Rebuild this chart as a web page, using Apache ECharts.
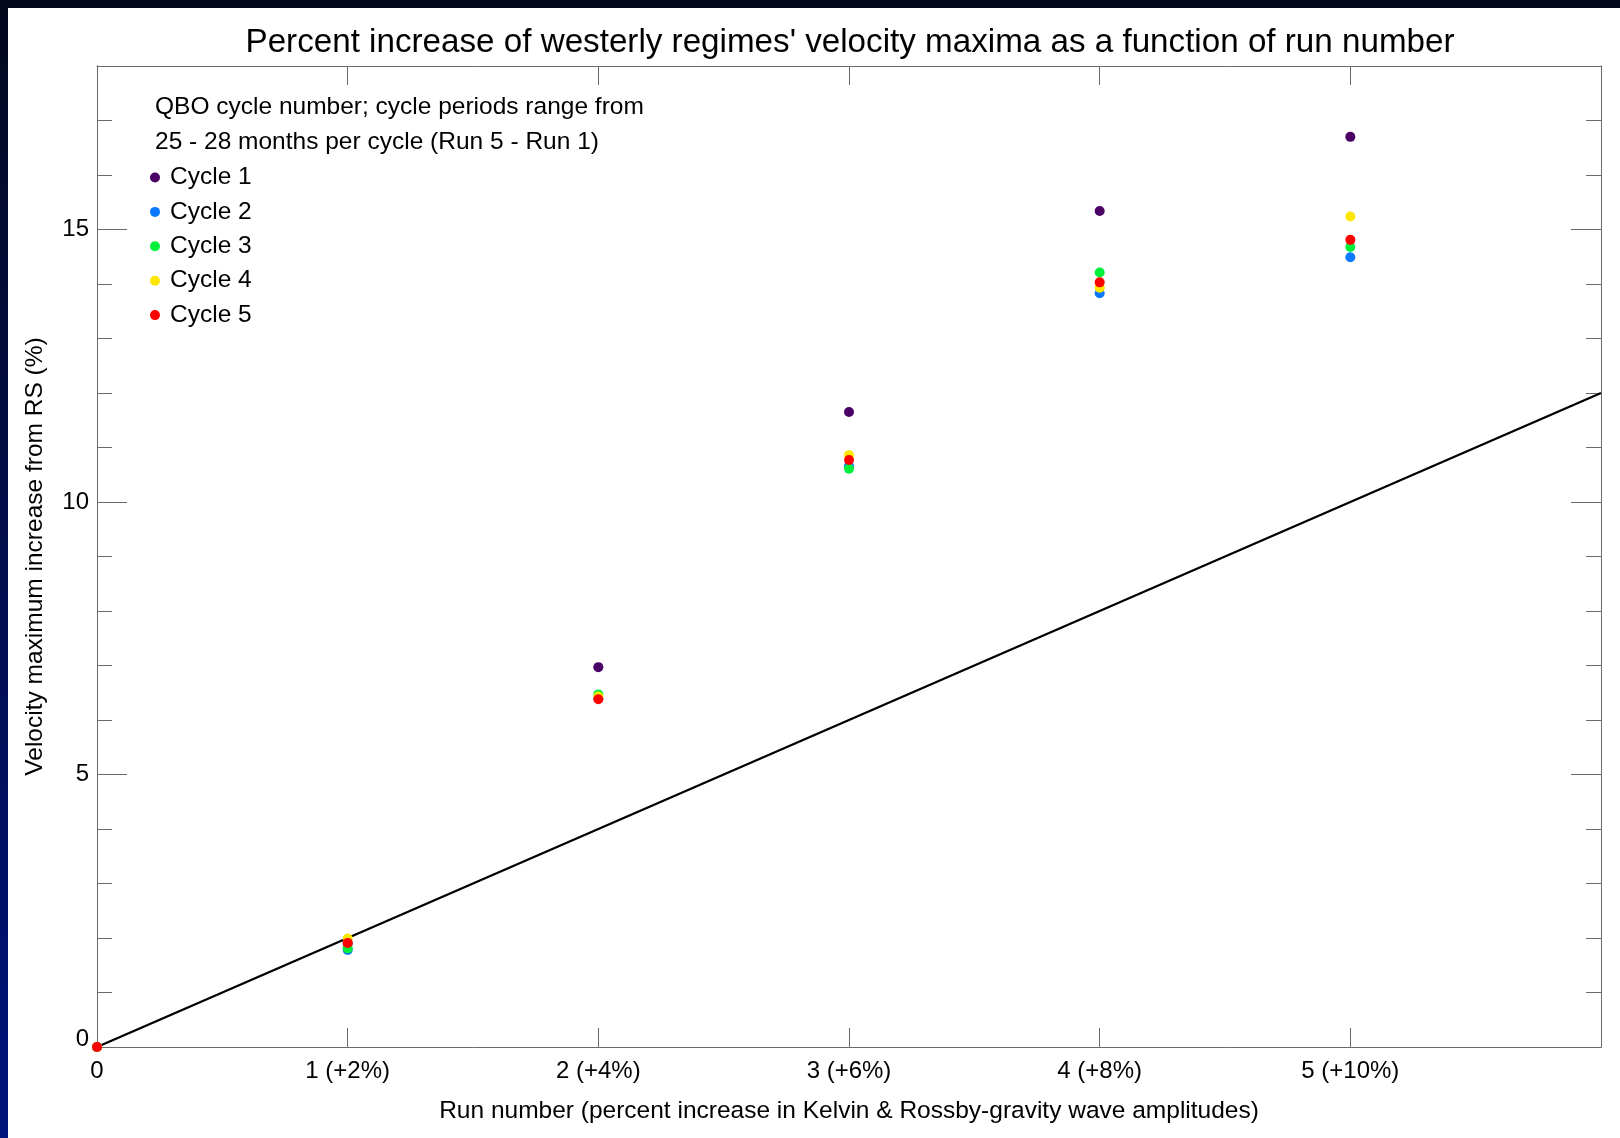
<!DOCTYPE html>
<html>
<head>
<meta charset="utf-8">
<script src="https://cdn.jsdelivr.net/npm/echarts@6/dist/echarts.min.js"></script>
<style>
html,body{margin:0;padding:0;background:#fff;}
#chart{width:1620px;height:1138px;}
</style>
</head>
<body>
<div id="chart"></div>
<script>
// ---- data ----
var runs = [0, 1, 2, 3, 4, 5];
var xTickLabels = ['0', '1 (+2%)', '2 (+4%)', '3 (+6%)', '4 (+8%)', '5 (+10%)', ''];
var cycleNames = ['Cycle 1', 'Cycle 2', 'Cycle 3', 'Cycle 4', 'Cycle 5'];
var cycle1 = [0, 1.90, 6.97, 11.65, 15.34, 16.70];
var cycle2 = [0, 1.78, 6.40, 10.66, 13.83, 14.49];
var cycle3 = [0, 1.81, 6.47, 10.61, 14.21, 14.68];
var cycle4 = [0, 1.99, 6.43, 10.86, 13.93, 15.24];
var cycle5 = [0, 1.91, 6.38, 10.77, 14.03, 14.81];
var refLineX = [0, 6];
var refLineY = [0, 12];
var cycleColors = ['#4b0066', '#0a78ff', '#00f03c', '#ffe600', '#ff0000'];

var FONT = 'Liberation Sans';
var FS = 24.5;
var chart = echarts.init(document.getElementById('chart'));
function pts(vals){ return runs.map(function(r,i){ return [r, vals[i]]; }); }
var cycles = [cycle1, cycle2, cycle3, cycle4, cycle5];
var axisGray = '#6a6a6a';

var series = [{
  type: 'line', name: 'ref', data: refLineX.map(function(x,i){return [x, refLineY[i]];}),
  symbol: 'none', lineStyle: {color: '#000', width: 2.4}, z: 1, silent: true
}];
cycles.forEach(function(c, i){
  series.push({
    type: 'scatter', name: cycleNames[i], data: pts(c), symbol: 'circle', symbolSize: 10,
    itemStyle: {color: cycleColors[i], opacity: 1}, z: 2 + i, clip: true
  });
});

function yAxisDef(pos, interval, tickLen, labels){
  return {
    type: 'value', position: pos, min: 0, max: 18, interval: interval,
    axisLine: {show: true, onZero: false, lineStyle: {color: axisGray, width: 1}},
    axisTick: {show: true, inside: true, length: tickLen, lineStyle: {color: axisGray, width: 1}},
    splitLine: {show: false},
    axisLabel: labels ? {
      show: true, margin: 8, color: '#000', fontSize: 24, fontFamily: FONT,
      formatter: function(v){ if (v === 0) return '{z|0}'; return (v % 5 === 0 && v < 18) ? String(v) : ''; },
      rich: {z: {fontSize: 24, fontFamily: FONT, color: '#000', padding: [0, 0, 16, 0]}}
    } : {show: false},
    name: labels ? 'Velocity maximum increase from RS (%)' : '',
    nameLocation: 'middle', nameGap: 49,
    nameTextStyle: {fontSize: FS, fontFamily: FONT, color: '#000'}
  };
}
function xAxisDef(pos, labels){
  return {
    type: 'value', position: pos, min: 0, max: 6, interval: 1,
    axisLine: {show: true, onZero: false, lineStyle: {color: axisGray, width: 1}},
    axisTick: {show: true, inside: true, length: 19, lineStyle: {color: axisGray, width: 1}},
    splitLine: {show: false},
    axisLabel: labels ? {
      show: true, margin: 12, color: '#000', fontSize: 24, fontFamily: FONT,
      formatter: function(v){ return xTickLabels[Math.round(v)] || ''; }
    } : {show: false},
    name: labels ? 'Run number (percent increase in Kelvin & Rossby-gravity wave amplitudes)' : '',
    nameLocation: 'middle', nameGap: 52,
    nameTextStyle: {fontSize: FS, fontFamily: FONT, color: '#000'}
  };
}

var option = {
  backgroundColor: '#ffffff',
  animation: false,
  textStyle: {fontFamily: FONT},
  title: {
    text: "Percent increase of westerly regimes' velocity maxima as a function of run number",
    left: 845, top: 21, textAlign: 'center',
    textStyle: {fontSize: 33.2, fontWeight: 'normal', color: '#000', fontFamily: FONT}
  },
  grid: {left: 97, top: 66, right: 19, bottom: 91, containLabel: false},
  legend: {
    show: true, orient: 'vertical', left: 145, top: 160,
    data: cycleNames, icon: 'circle', itemWidth: 10, itemHeight: 10, itemGap: 9.4,
    textStyle: {fontSize: FS, fontFamily: FONT, color: '#000', lineHeight: 24, padding: [0, 0, 0, 5]},
    selectedMode: false
  },
  graphic: [
    {type: 'rect', left: 0, top: 0, z: 100, shape: {width: 1620, height: 8}, style: {fill: '#04081e'}},
    {type: 'rect', left: 0, top: 0, z: 100, shape: {width: 8, height: 1138},
      style: {fill: new echarts.graphic.LinearGradient(0, 0, 0, 1, [{offset: 0, color: '#04081e'}, {offset: 1, color: '#00137c'}])}},
    {type: 'text', left: 155, top: 95, z: 50,
      style: {text: 'QBO cycle number; cycle periods range from', font: FS + 'px "Liberation Sans"', fill: '#000'}},
    {type: 'text', left: 155, top: 129.5, z: 50,
      style: {text: '25 - 28 months per cycle (Run 5 - Run 1)', font: FS + 'px "Liberation Sans"', fill: '#000'}}
  ],
  xAxis: [xAxisDef('bottom', true), xAxisDef('top', false)],
  yAxis: [yAxisDef('left', 1, 15, true), yAxisDef('left', 5, 30, false), yAxisDef('right', 1, 15, false), yAxisDef('right', 5, 30, false)],
  series: series
};
chart.setOption(option);
</script>
</body>
</html>
